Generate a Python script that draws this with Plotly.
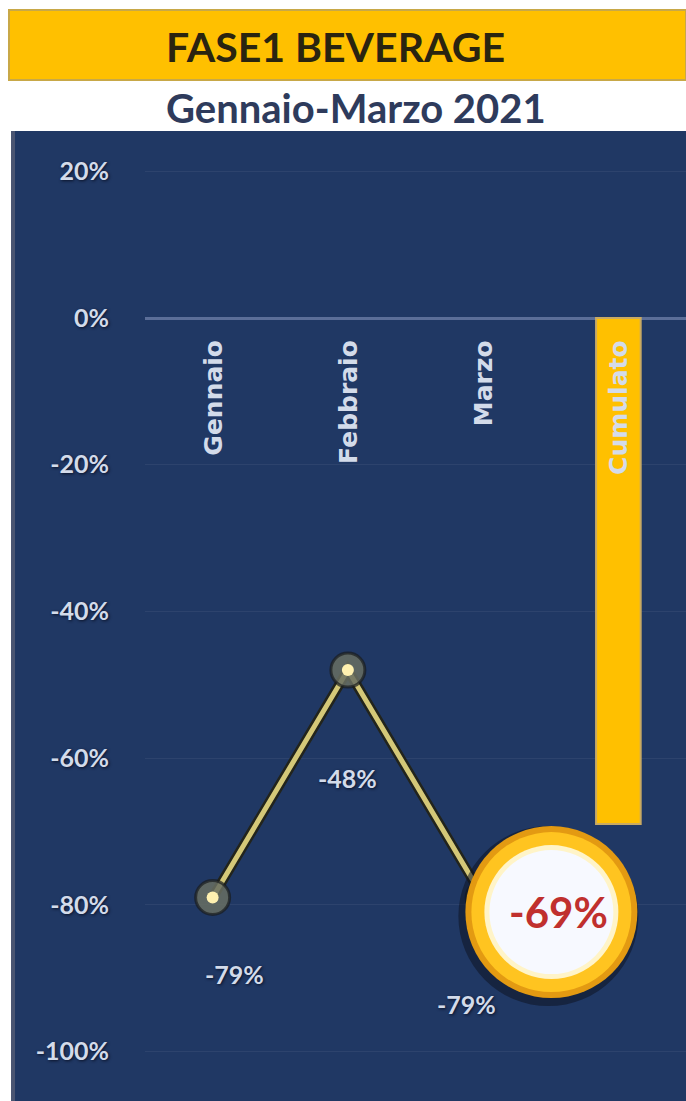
import plotly.graph_objects as go

# ---------------- data ----------------
months = ["Gennaio", "Febbraio", "Marzo"]
month_values = [-0.79, -0.48, -0.79]
total_label = "Cumulato"
total_value = -0.69
y_tick_values = [0.2, 0.0, -0.2, -0.4, -0.6, -0.8, -1.0]
y_tick_labels = ["20%", "0%", "-20%", "-40%", "-60%", "-80%", "-100%"]
title_text = "FASE1 BEVERAGE"
subtitle_text = "Gennaio-Marzo 2021"

# ---------------- styling ----------------
W, H = 686, 1101
ML, MR, MT, MB = 145, 0, 132, 0
NAVY = "#203864"
YELLOW = "#FFC000"
LIGHT = "#D3DBEA"
label_dx = [22, 0, -17]      # pixel offsets for point labels
label_dy = [77, 108, 107]


def px(x):
    return (x - ML) / (W - ML - MR)


def py(y):
    return (H - MB - y) / (H - MT - MB)


cats = months + [total_label]
xi = list(range(len(months)))
x_total = len(months)

fig = go.Figure()

# total bar
fig.add_trace(go.Bar(
    x=[x_total], y=[total_value], width=0.33,
    marker=dict(color=YELLOW, line=dict(color="#C9AA62", width=2)),
    hoverinfo="skip", showlegend=False))

# line shadow + line
fig.add_trace(go.Scatter(
    x=xi, y=month_values, mode="lines",
    line=dict(color="#22241C", width=10), hoverinfo="skip", showlegend=False))
fig.add_trace(go.Scatter(
    x=xi, y=month_values, mode="lines",
    line=dict(color="#D4C878", width=5), hoverinfo="skip", showlegend=False))
# marker halos + centers
fig.add_trace(go.Scatter(
    x=xi, y=month_values, mode="markers",
    marker=dict(size=34, color="rgba(105,110,98,0.85)",
                line=dict(color="rgba(25,28,30,0.7)", width=3)),
    hoverinfo="skip", showlegend=False))
fig.add_trace(go.Scatter(
    x=xi, y=month_values, mode="markers",
    marker=dict(size=12, color="#FFF1B0", line=dict(width=0)),
    hoverinfo="skip", showlegend=False))

shapes = []
# backgrounds
shapes.append(dict(type="rect", xref="paper", yref="paper", layer="below",
                   x0=px(11), x1=px(686), y0=py(1101), y1=py(131),
                   fillcolor="#4A5572", line=dict(width=0)))
shapes.append(dict(type="rect", xref="paper", yref="paper", layer="below",
                   x0=px(15), x1=px(686), y0=py(1101), y1=py(131),
                   fillcolor=NAVY, line=dict(width=0)))
shapes.append(dict(type="rect", xref="paper", yref="paper", layer="below",
                   x0=px(9), x1=px(686), y0=py(80), y1=py(10),
                   fillcolor=YELLOW, line=dict(color="#C8A848", width=2)))

# big callout circle for the total, anchored at the bar end
cx, cy = -67, -88
for r, col in [(90, "rgba(15,20,35,0.55)"), (86, "#E39A12"), (80, "#FFC420"),
               (67, "#FFF4C8"), (62, "#F7F9FF")]:
    dx = 3 if r == 90 else 0
    dy = -4 if r == 90 else 0
    shapes.append(dict(type="circle", xref="x", yref="y",
                       xsizemode="pixel", ysizemode="pixel",
                       xanchor=x_total, yanchor=total_value,
                       x0=cx - r - dx, x1=cx + r - dx, y0=cy - r + dy, y1=cy + r + dy,
                       fillcolor=col, line=dict(width=0), layer="above"))

annotations = []
annotations.append(dict(xref="paper", yref="paper", x=px(335), y=py(46),
                        xanchor="center", yanchor="middle",
                        text=title_text, showarrow=False,
                        font=dict(family="Lato", size=41, color="#2A2410", weight="bold")))
annotations.append(dict(xref="paper", yref="paper", x=px(356), y=py(108),
                        xanchor="center", yanchor="middle",
                        text=subtitle_text, showarrow=False,
                        font=dict(family="Lato", size=40, color="#2E3B5C", weight="bold")))

# category labels (rotated, hanging below the zero line)
for i, c in enumerate(cats):
    annotations.append(dict(x=i, y=0, xref="x", yref="y", text=c, showarrow=False,
                            textangle=-90, yanchor="top", xanchor="center", yshift=-20,
                            font=dict(family="DejaVu Sans", size=25, color=LIGHT,
                                      weight="bold")))

# point labels
for i, v in enumerate(month_values):
    annotations.append(dict(x=i, y=v, xref="x", yref="y",
                            text=f"<b>{round(v * 100)}%</b>", showarrow=False,
                            xshift=label_dx[i], yshift=-label_dy[i],
                            font=dict(family="Lato", size=25, color=LIGHT,
                                      shadow="1px 1px 3px #0A1228")))

# total value label in the callout
annotations.append(dict(x=x_total, y=total_value, xref="x", yref="y",
                        text=f"<b>{round(total_value * 100)}%</b>", showarrow=False,
                        xshift=cx + 7, yshift=cy,
                        font=dict(family="Lato", size=42, color="#C0302E")))

fig.update_layout(
    width=W, height=H,
    margin=dict(l=ML, r=MR, t=MT, b=MB, pad=0),
    paper_bgcolor="white", plot_bgcolor=NAVY,
    showlegend=False,
    shapes=shapes, annotations=annotations,
    xaxis=dict(range=[-0.5, len(cats) - 0.5], showticklabels=False, showgrid=False,
               zeroline=False, showline=False, fixedrange=True),
    yaxis=dict(range=[-1.0675, 0.2536], tickvals=y_tick_values, ticktext=y_tick_labels,
               ticks="outside", ticklen=30, tickcolor="rgba(0,0,0,0)",
               tickfont=dict(family="Lato", size=25, color=LIGHT, weight="bold",
                             shadow="1px 1px 3px #0A1228"),
               showgrid=True, gridcolor="rgba(255,255,255,0.06)", gridwidth=1,
               zeroline=True, zerolinecolor="#5B6E98", zerolinewidth=3,
               showline=False, fixedrange=True),
)

fig.write_html("out.html")
